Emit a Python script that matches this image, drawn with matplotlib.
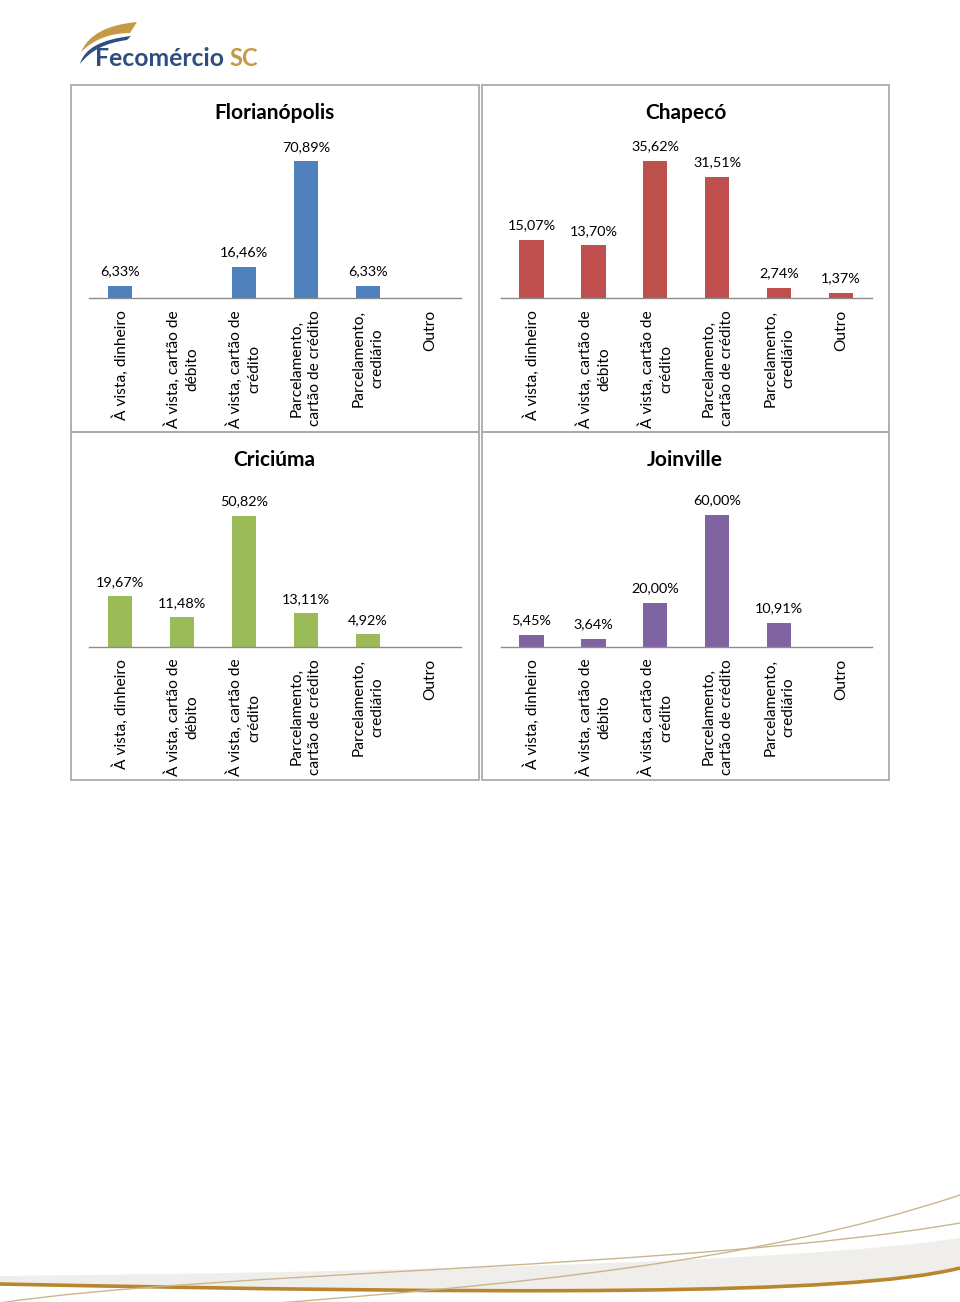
import matplotlib
matplotlib.use("Agg")
import matplotlib.pyplot as plt
from matplotlib.patches import Rectangle, PathPatch
from matplotlib.path import Path
import numpy as np

plt.rcParams['font.family'] = ['Lato', 'DejaVu Sans']

# données
categorias = ["À vista, dinheiro", "À vista, cartão de\ndébito", "À vista, cartão de\ncrédito",
              "Parcelamento,\ncartão de crédito", "Parcelamento,\ncrediário", "Outro"]
cidades = ["Florianópolis", "Chapecó", "Criciúma", "Joinville"]
florianopolis = [6.33, 0, 16.46, 70.89, 6.33, 0]
chapeco = [15.07, 13.70, 35.62, 31.51, 2.74, 1.37]
criciuma = [19.67, 11.48, 50.82, 13.11, 4.92, 0]
joinville = [5.45, 3.64, 20.00, 60.00, 10.91, 0]
eixo_max = [80, 40, 60, 70]
cores = ['#4F81BD', '#C0504D', '#9BBB59', '#8064A2']

W, H = 960, 1302
fig = plt.figure(figsize=(W / 100, H / 100), dpi=100)

# fundo en pixels (logo, cadres, courbes)
bg = fig.add_axes([0, 0, 1, 1])
bg.set_xlim(0, W)
bg.set_ylim(H, 0)
bg.axis('off')

# cadres des graphiques
for (x0, y0, x1, y1) in [(71, 85, 479, 432), (482, 85, 889, 432),
                         (71, 432, 479, 780), (482, 432, 889, 780)]:
    bg.add_patch(Rectangle((x0, y0), x1 - x0, y1 - y0, fill=False,
                           edgecolor='#ABABAB', lw=1.3))

# logo
gold = '#C49A45'
blue = '#2F4D80'
asa = Path([(81, 52), (92, 26), (137, 22), (130, 33), (100, 33), (81, 52), (81, 52)],
           [Path.MOVETO, Path.CURVE3, Path.CURVE3, Path.LINETO, Path.CURVE3, Path.CURVE3, Path.CLOSEPOLY])
bg.add_patch(PathPatch(asa, facecolor=gold, edgecolor='none'))
asa2 = Path([(80, 64), (86, 41), (131, 36), (127, 40), (95, 44), (80, 64), (80, 64)],
            [Path.MOVETO, Path.CURVE3, Path.CURVE3, Path.LINETO, Path.CURVE3, Path.CURVE3, Path.CLOSEPOLY])
bg.add_patch(PathPatch(asa2, facecolor=blue, edgecolor='none'))
bg.text(95, 66, "Fecomércio", color=blue, fontsize=17.8, fontweight='bold', va='baseline')
bg.text(229, 66, "SC", color=gold, fontsize=17, fontweight='bold', va='baseline')

# courbes décoratives en bas
faixa = Path([(0, 1276), (400, 1272), (800, 1262), (960, 1238), (960, 1268),
              (850, 1296), (500, 1294), (0, 1284), (0, 1276)],
             [Path.MOVETO, Path.CURVE4, Path.CURVE4, Path.CURVE4, Path.LINETO,
              Path.CURVE4, Path.CURVE4, Path.CURVE4, Path.CLOSEPOLY])
bg.add_patch(PathPatch(faixa, facecolor='#F0EEEB', edgecolor='none'))
linha_ouro = Path([(0, 1284), (500, 1294), (850, 1296), (960, 1268)],
                  [Path.MOVETO, Path.CURVE4, Path.CURVE4, Path.CURVE4])
bg.add_patch(PathPatch(linha_ouro, facecolor='none', edgecolor='#B8862E', lw=2.6))
linha_a = Path([(0, 1303), (200, 1272), (700, 1268), (960, 1223)],
               [Path.MOVETO, Path.CURVE4, Path.CURVE4, Path.CURVE4])
bg.add_patch(PathPatch(linha_a, facecolor='none', edgecolor='#C9B68E', lw=1.0))
linha_b = Path([(278, 1303), (500, 1285), (750, 1265), (960, 1195)],
               [Path.MOVETO, Path.CURVE4, Path.CURVE4, Path.CURVE4])
bg.add_patch(PathPatch(linha_b, facecolor='none', edgecolor='#C9B68E', lw=1.0))

# graphiques
valores = [florianopolis, chapeco, criciuma, joinville]
esquerda = [89.3, 500.6, 89.3, 500.6]
base = [298.3, 298.3, 647, 647]
titulo_x = [274.5, 686, 274.5, 685]
titulo_y = [119, 119, 466, 466]
largura, altura = 371.5, 154.5

x = np.arange(len(categorias))
for i in range(4):
    ax = fig.add_axes([esquerda[i] / W, 1 - base[i] / H, largura / W, altura / H])
    ax.patch.set_alpha(0)
    ax.bar(x, valores[i], width=0.39, color=cores[i])
    ax.set_xlim(-0.5, len(categorias) - 0.5)
    ax.set_ylim(0, eixo_max[i])
    for s in ['top', 'right', 'left']:
        ax.spines[s].set_visible(False)
    ax.spines['bottom'].set_color('#8C8C8C')
    ax.spines['bottom'].set_linewidth(1.0)
    ax.set_yticks([])
    ax.set_xticks(x)
    ax.set_xticklabels(categorias, rotation=90, fontsize=11.2, multialignment='center',
                       linespacing=1.4)
    ax.tick_params(axis='x', length=0, pad=8.5)
    for xi, v in zip(x, valores[i]):
        if v > 0:
            ax.annotate(f"{v:.2f}%".replace('.', ','), (xi, v), xytext=(0, 7.6),
                        textcoords='offset points', ha='center', va='baseline',
                        fontsize=10.4, annotation_clip=False)
    fig.text(titulo_x[i] / W, 1 - titulo_y[i] / H, cidades[i], ha='center', va='baseline',
             fontsize=15, fontweight='bold')

plt.savefig('out.png', dpi=100)
